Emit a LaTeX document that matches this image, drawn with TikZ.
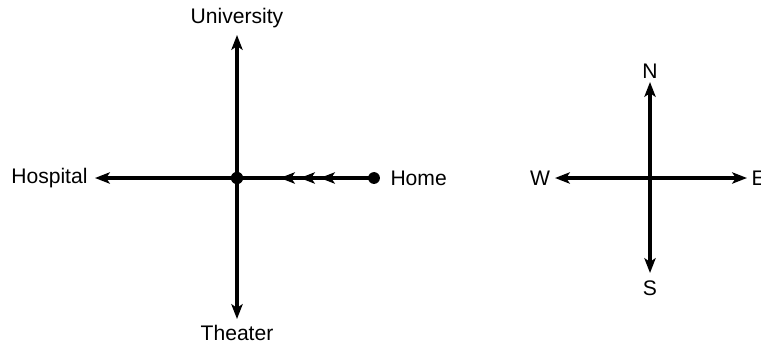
\documentclass[tikz,border=0pt]{standalone}
\usepackage{fontspec}
\setmainfont{Liberation Sans}
\usetikzlibrary{arrows.meta}

\begin{document}
\begin{tikzpicture}[x = 0.025cm, y = 0.025cm, line width = 2.4pt,
    tip/.style = {-{Stealth[length = 10.5pt, width = 8pt, inset = 2.5pt]}},
    word/.style = {font = \fontsize{15}{18}\selectfont, inner sep = 2pt}]
  \useasboundingbox (0, 0) rectangle (761, 345);

  % streets
  \coordinate (O) at (237, 167);
  \coordinate (U) at (237, 310);
  \coordinate (T) at (237, 26);
  \coordinate (H) at (95, 167);
  \coordinate (M) at (374, 167);

  \node[word] (univ) at (237, 327) {University};
  \node[word] (theat) at (237, 12) {Theater};
  \node[word, anchor = east] (hosp) at (92, 167) {Hospital};
  \node[word, anchor = west] (home) at (386, 167) {Home};

  \draw[tip] (O) -- (U);
  \draw[tip] (O) -- (T);
  \draw[tip] (O) -- (H);
  \draw (M) -- (O);
  \foreach \x in {280, 300, 320}
    \draw[tip] (\x + 12, 167) -- (\x, 167);

  \fill (O) circle (4.4pt);
  \fill (M) circle (4.2pt);

  % compass
  \coordinate (C) at (650, 167);
  \coordinate (N) at (650, 263);
  \coordinate (S) at (650, 72);
  \coordinate (W) at (555, 167);
  \coordinate (E) at (747, 167);

  \node[word] (north) at (650, 274) {N};
  \node[word] (south) at (650, 57) {S};
  \node[word] (west) at (540, 167) {W};
  \node[word, anchor = west] (east) at (747, 167) {E};

  \draw[tip] (C) -- (N);
  \draw[tip] (C) -- (S);
  \draw[tip] (C) -- (W);
  \draw[tip] (C) -- (E);
\end{tikzpicture}
\end{document}
